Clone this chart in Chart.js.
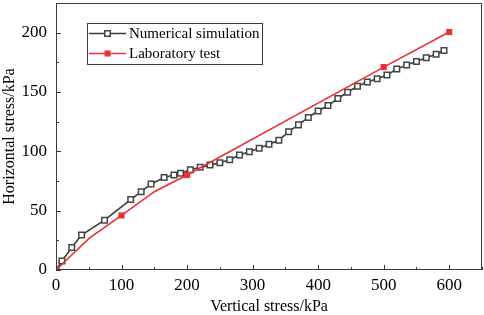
<!DOCTYPE html>
<html>
<head>
<meta charset="utf-8">
<script src="https://cdn.jsdelivr.net/npm/chart.js@4/dist/chart.umd.min.js"></script>
<style>
html,body{margin:0;padding:0;background:#fff;}
#wrap{width:484px;height:315px;position:relative;}
</style>
</head>
<body>
<div id="wrap"><canvas id="c" width="484" height="315"></canvas></div>
<script>
// Numerical simulation (vertical stress kPa, horizontal stress kPa)
const simX = [0, 9, 24, 39, 74, 114, 130, 145, 165, 180, 190, 205, 220, 235, 250, 265, 280, 295, 310, 325, 340, 355, 370, 385, 400, 415, 430, 445, 460, 475, 490, 505, 520, 535, 550, 565, 580, 592];
const simY = [0, 7.5, 19, 29.5, 42, 59.4, 66, 72.5, 78, 80, 81.5, 84.5, 86.5, 88.4, 90.4, 92.9, 97, 99.6, 102.6, 106, 109.3, 116.6, 122.3, 128.6, 134, 138.6, 144.5, 149.8, 154.8, 158.4, 161.2, 164.3, 169.3, 172.7, 175.7, 178.8, 181.9, 185];
// Laboratory test (markers at 0,100,200,500,600; intermediate curve points unmarked)
const labX = [0, 50, 100, 150, 200, 500, 600];
const labY = [0, 26.5, 46, 66, 80, 171, 200.5];
const labMarked = [true, false, true, false, true, true, true];
const xTicks = [0, 100, 200, 300, 400, 500, 600];
const yTicks = [0, 50, 100, 150, 200];
const seriesNames = ['Numerical simulation', 'Laboratory test'];

const FONT = "'Liberation Serif', 'Times New Roman', serif";
const SIM_COLOR = '#3c3c3c';
const LAB_COLOR = 'rgb(238,45,52)';

const simData = simX.map((x, i) => ({x, y: simY[i]}));
const labData = labX.map((x, i) => ({x, y: labY[i]}));

const frameTicks = {
  id: 'frameTicks',
  afterDraw(chart) {
    const {ctx, chartArea: a, scales: {x, y}} = chart;
    ctx.save();
    ctx.strokeStyle = '#3a3a3a';
    ctx.lineWidth = 1;
    ctx.strokeRect(Math.round(a.left) + 0.5, Math.round(a.top) + 0.5, Math.round(a.right - a.left) - 1, Math.round(a.bottom - a.top) - 1);
    ctx.beginPath();
    for (let v = 0; v <= 650; v += 50) {
      const px = Math.round(x.getPixelForValue(v)) + 0.5;
      const len = (v % 100 === 0) ? 5 : 3;
      ctx.moveTo(px, a.bottom);
      ctx.lineTo(px, a.bottom - len);
    }
    for (let v = 0; v <= 225; v += 25) {
      const py = Math.round(y.getPixelForValue(v)) + 0.5;
      const len = (v % 50 === 0) ? 5 : 3;
      ctx.moveTo(a.left, py);
      ctx.lineTo(a.left + len, py);
    }
    ctx.stroke();
    ctx.restore();
  }
};

const boxLegend = {
  id: 'boxLegend',
  afterDraw(chart) {
    const {ctx} = chart;
    const ds = chart.data.datasets;
    const order = [1, 0];
    const bx = 87, by = 23, bw = 175, bh = 41;
    ctx.save();
    ctx.fillStyle = '#fff';
    ctx.fillRect(bx, by, bw, bh);
    ctx.strokeStyle = '#3a3a3a';
    ctx.lineWidth = 1;
    ctx.strokeRect(bx + 0.5, by + 0.5, bw, bh);
    order.forEach((di, row) => {
      const d = ds[di];
      const cy = 33.5 + row * 20;
      ctx.strokeStyle = d.borderColor;
      ctx.lineWidth = 1.6;
      ctx.beginPath();
      ctx.moveTo(89, cy);
      ctx.lineTo(126, cy);
      ctx.stroke();
      const s = di === 1 ? 5.5 : 6;
      ctx.lineWidth = 1.5;
      if (di === 1) {
        ctx.fillStyle = '#fff';
        ctx.fillRect(107.5 - s / 2, cy - s / 2, s, s);
        ctx.strokeStyle = '#444';
        ctx.strokeRect(107.5 - s / 2, cy - s / 2, s, s);
      } else {
        ctx.fillStyle = LAB_COLOR;
        ctx.fillRect(107.5 - s / 2, cy - s / 2, s, s);
      }
      ctx.fillStyle = '#000';
      ctx.font = '15px ' + FONT;
      ctx.textBaseline = 'middle';
      ctx.textAlign = 'left';
      ctx.fillText(d.label, 129, cy + 0.5);
    });
    ctx.restore();
  }
};

new Chart(document.getElementById('c'), {
  type: 'line',
  data: {
    datasets: [
      {
        label: seriesNames[1],
        data: labData,
        borderColor: LAB_COLOR,
        backgroundColor: LAB_COLOR,
        borderWidth: 1.6,
        pointStyle: 'rect',
        pointRadius: labMarked.map(m => m ? 4.3 : 0),
        pointBorderWidth: 0,
        pointBackgroundColor: LAB_COLOR,
        tension: 0,
        clip: 0,
        order: 0
      },
      {
        label: seriesNames[0],
        data: simData,
        borderColor: SIM_COLOR,
        backgroundColor: '#fff',
        borderWidth: 1.6,
        pointStyle: 'rect',
        pointRadius: 3.9,
        pointBorderWidth: 1.5,
        pointBorderColor: '#444',
        pointBackgroundColor: '#fff',
        tension: 0,
        clip: 0,
        order: 1
      }
    ]
  },
  options: {
    responsive: false,
    animation: false,
    devicePixelRatio: 1,
    layout: {autoPadding: false, padding: {top: 3, right: 2, left: 0, bottom: 0}},
    plugins: {legend: {display: false}, tooltip: {enabled: false}},
    scales: {
      x: {
        type: 'linear',
        min: 0, max: 650,
        border: {display: false},
        grid: {display: false, drawTicks: false},
        afterBuildTicks(s) { s.ticks = xTicks.map(v => ({value: v})); },
        afterFit(s) { s.height = 45; s.paddingLeft = 0; s.paddingRight = 0; },
        ticks: {
          padding: 5,
          color: '#000',
          maxRotation: 0,
          font: {family: FONT, size: 17}
        },
        title: {
          display: true,
          text: 'Vertical stress/kPa',
          color: '#000',
          font: {family: FONT, size: 16, lineHeight: 1},
          padding: {top: 0, bottom: 0}
        }
      },
      y: {
        type: 'linear',
        min: 0, max: 225,
        border: {display: false},
        grid: {display: false, drawTicks: false},
        afterBuildTicks(s) { s.ticks = yTicks.map(v => ({value: v})); },
        afterFit(s) { s.width = 56; s.paddingTop = 0; s.paddingBottom = 0; },
        ticks: {
          padding: 9,
          color: '#000',
          font: {family: FONT, size: 17}
        },
        title: {
          display: true,
          text: 'Horizontal stress/kPa',
          color: '#000',
          font: {family: FONT, size: 16},
          padding: {top: 0, bottom: 0}
        }
      }
    }
  },
  plugins: [frameTicks, boxLegend]
});
</script>
</body>
</html>
